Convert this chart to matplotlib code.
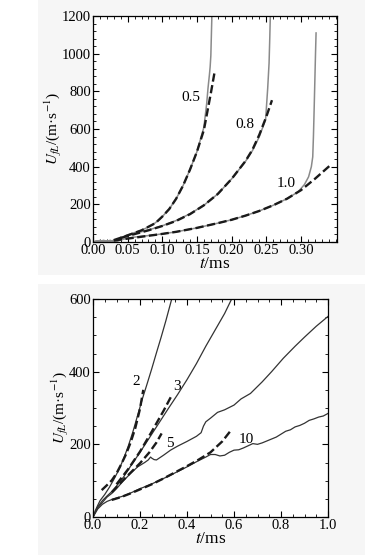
import matplotlib
matplotlib.use("Agg")
import matplotlib.pyplot as plt
from matplotlib.ticker import MultipleLocator
from matplotlib.patches import Rectangle

plt.rcParams['font.family'] = ['Liberation Serif', 'DejaVu Serif']
plt.rcParams['mathtext.fontset'] = 'stix'

# ---- top panel: solid = simulation, dashed = fit ----
t05 = [0, 0.005, 0.01, 0.015, 0.02, 0.025, 0.03, 0.035, 0.04, 0.045, 0.05, 0.06, 0.07, 0.08, 0.09,
       0.10, 0.11, 0.12, 0.13, 0.14, 0.15, 0.155, 0.16, 0.164, 0.166, 0.168, 0.169, 0.170, 0.1705, 0.171, 0.1715]
u05 = [0, 6, 2, 9, 4, 8, 3, 12, 10, 30, 38, 50, 62, 80, 102,
       135, 175, 230, 300, 385, 480, 545, 610, 735, 820, 890, 930, 990, 1060, 1130, 1200]
t05f = [0.03, 0.05, 0.07, 0.09, 0.10, 0.11, 0.12, 0.13, 0.14, 0.15, 0.16, 0.17, 0.1753]
u05f = [10, 35, 62, 100, 135, 175, 230, 300, 385, 480, 595, 790, 900]

t08 = [0, 0.005, 0.01, 0.015, 0.02, 0.025, 0.03, 0.035, 0.04, 0.045, 0.05, 0.06, 0.08, 0.10, 0.12, 0.14,
       0.16, 0.18, 0.20, 0.22, 0.23, 0.24, 0.245, 0.249, 0.252, 0.254, 0.255, 0.2558]
u08 = [0, 3, 8, 2, 6, 4, 9, 5, 12, 28, 36, 45, 64, 86, 114, 150,
       195, 255, 335, 428, 485, 560, 610, 650, 815, 950, 1080, 1200]
t08f = [0.04, 0.06, 0.08, 0.10, 0.12, 0.14, 0.16, 0.18, 0.20, 0.22, 0.23, 0.24, 0.25, 0.2582]
u08f = [22, 42, 62, 85, 112, 148, 195, 255, 335, 430, 490, 570, 665, 753]

t10 = [0, 0.005, 0.01, 0.015, 0.02, 0.025, 0.03, 0.035, 0.04, 0.045, 0.05, 0.06, 0.08, 0.10, 0.12, 0.15,
       0.18, 0.20, 0.22, 0.24, 0.26, 0.28, 0.296, 0.305, 0.311, 0.315, 0.317, 0.318, 0.319, 0.320, 0.321, 0.3218]
u10 = [0, 4, 7, 2, 5, 8, 3, 6, 10, 16, 20, 26, 34, 43, 54, 75,
       100, 118, 140, 165, 195, 230, 267, 305, 346, 400, 452, 560, 700, 850, 1000, 1110]
t10f = [0.03, 0.05, 0.08, 0.10, 0.12, 0.15, 0.18, 0.20, 0.22, 0.24, 0.26, 0.28, 0.30, 0.32, 0.344]
u10f = [8, 18, 33, 43, 54, 75, 100, 118, 140, 165, 195, 230, 275, 335, 413]

top_labels = ['0.5', '0.8', '1.0']
top_label_t = [0.141, 0.2187, 0.278]
top_label_u = [767, 625, 311]

# ---- bottom panel ----
t2 = [0, 0.01, 0.02, 0.03, 0.05, 0.07, 0.09, 0.11, 0.13, 0.15, 0.17, 0.19, 0.21, 0.23, 0.25, 0.27, 0.29, 0.31, 0.335]
u2 = [0, 18, 32, 45, 62, 82, 105, 130, 160, 195, 235, 280, 325, 366, 408, 452, 495, 540, 600]
t2f = [0.037, 0.06, 0.08, 0.10, 0.12, 0.14, 0.16, 0.18, 0.20, 0.214]
u2f = [74, 88, 101, 120, 145, 172, 205, 245, 298, 350]

t3 = [0, 0.02, 0.04, 0.06, 0.08, 0.10, 0.13, 0.16, 0.20, 0.24, 0.28, 0.32, 0.36, 0.40, 0.44, 0.48, 0.52, 0.56, 0.59]
u3 = [0, 28, 45, 58, 70, 85, 110, 140, 178, 218, 258, 298, 337, 378, 422, 470, 515, 560, 600]
t3f = [0.10, 0.15, 0.20, 0.25, 0.30, 0.332]
u3f = [90, 132, 180, 235, 292, 331]

t5 = [0, 0.02, 0.04, 0.06, 0.08, 0.10, 0.13, 0.16, 0.19, 0.22, 0.235, 0.245, 0.25, 0.26, 0.27, 0.30, 0.33, 0.36, 0.40,
      0.44, 0.46, 0.47, 0.48, 0.50, 0.53, 0.56, 0.60, 0.63, 0.67, 0.72, 0.76, 0.81, 0.86, 0.90, 0.95, 1.0]
u5 = [0, 25, 40, 55, 65, 78, 100, 120, 138, 150, 157, 165, 162, 158, 157, 170, 184, 195, 208,
      222, 232, 250, 262, 272, 288, 295, 308, 325, 340, 372, 400, 437, 470, 495, 525, 552]
t5f = [0.08, 0.12, 0.16, 0.20, 0.24, 0.27, 0.292]
u5f = [68, 96, 122, 148, 178, 205, 230]

t10b = [0, 0.02, 0.04, 0.06, 0.08, 0.10, 0.13, 0.16, 0.20, 0.24, 0.28, 0.32, 0.36, 0.40, 0.44, 0.48, 0.50, 0.52, 0.54,
        0.56, 0.58, 0.60, 0.62, 0.64, 0.66, 0.68, 0.70, 0.72, 0.75, 0.78, 0.80, 0.82, 0.84, 0.86, 0.88, 0.90, 0.92,
        0.94, 0.96, 0.98, 1.0]
u10b = [0, 22, 35, 43, 48, 52, 58, 66, 78, 88, 100, 112, 125, 138, 152, 165, 172, 172, 168,
        170, 178, 184, 185, 190, 196, 202, 200, 204, 212, 220, 228, 236, 240, 248, 252, 258, 266,
        270, 275, 278, 285]
t10bf = [0.08, 0.12, 0.16, 0.20, 0.25, 0.30, 0.35, 0.40, 0.45, 0.50, 0.55, 0.59]
u10bf = [47, 55, 65, 76, 90, 106, 123, 140, 158, 178, 208, 241]

bot_labels = ['2', '3', '5', '10']
bot_label_t = [0.185, 0.356, 0.328, 0.654]
bot_label_u = [372, 359, 203, 212]

fig = plt.figure(figsize=(3.82, 5.55), dpi=100)
fig.patch.set_facecolor('white')

ax1 = fig.add_axes([93 / 382, 1 - 242 / 555, 244 / 382, 226 / 555])
ax2 = fig.add_axes([93 / 382, 1 - 517 / 555, 235 / 382, 218 / 555])

# light grey backing of the two scanned panels (behind the axes)
for y0, h in [(1 - 275 / 555, 275 / 555), (0, 1 - 284 / 555)]:
    fig.add_artist(Rectangle((38 / 382, y0), 327 / 382, h, transform=fig.transFigure,
                             facecolor='#f6f6f6', edgecolor='none', zorder=-5))

solid_top = dict(color='#8a8a8a', lw=1.1)
dash = dict(color='#1a1a1a', lw=1.7, ls=(0, (3.5, 1.5)))

for t, u in [(t05, u05), (t08, u08), (t10, u10)]:
    ax1.plot(t, u, **solid_top)
for t, u in [(t05f, u05f), (t08f, u08f), (t10f, u10f)]:
    ax1.plot(t, u, **dash)
for s, x, y in zip(top_labels, top_label_t, top_label_u):
    ax1.text(x, y, s, fontsize=11, ha='center', va='center')

solid_bot = dict(color='#333333', lw=0.9)
for t, u in [(t2, u2), (t3, u3), (t5, u5), (t10b, u10b)]:
    ax2.plot(t, u, **solid_bot)
for t, u in [(t2f, u2f), (t3f, u3f), (t5f, u5f), (t10bf, u10bf)]:
    ax2.plot(t, u, **dash)
for s, x, y in zip(bot_labels, bot_label_t, bot_label_u):
    ax2.text(x, y, s, fontsize=11, ha='center', va='center')

ax1.set_xlim(0, 0.352)
ax1.set_ylim(0, 1200)
ax1.xaxis.set_minor_locator(MultipleLocator(0.01))
ax1.yaxis.set_major_locator(MultipleLocator(200))
ax1.yaxis.set_minor_locator(MultipleLocator(40))
ax1.set_xticks([0, 0.05, 0.10, 0.15, 0.20, 0.25, 0.30])
ax1.set_xticklabels(['0.00', '0.05', '0.10', '0.15', '0.20', '0.25', '0.30'])

ax2.set_xlim(0, 1.0)
ax2.set_ylim(0, 600)
ax2.xaxis.set_minor_locator(MultipleLocator(0.05))
ax2.yaxis.set_major_locator(MultipleLocator(200))
ax2.yaxis.set_minor_locator(MultipleLocator(50))
ax2.set_xticks([0, 0.2, 0.4, 0.6, 0.8, 1.0])
ax2.set_xticklabels(['0.0', '0.2', '0.4', '0.6', '0.8', '1.0'])

for ax in (ax1, ax2):
    ax.set_facecolor('white')
    ax.set_zorder(1)
    ax.tick_params(which='both', direction='in', top=True, right=True, labelsize=10.5, pad=1.5)
    ax.tick_params(which='major', length=4, width=0.8)
    ax.tick_params(which='minor', length=2, width=0.6)
    for sp in ax.spines.values():
        sp.set_linewidth(0.9)
    ax.set_xlabel('$t$/ms', fontsize=12.5, labelpad=-1)
    ax.set_ylabel('$U_{fL}$/(m·s$^{-1}$)', fontsize=11, labelpad=-1.5)

fig.savefig('out.png', dpi=100)
